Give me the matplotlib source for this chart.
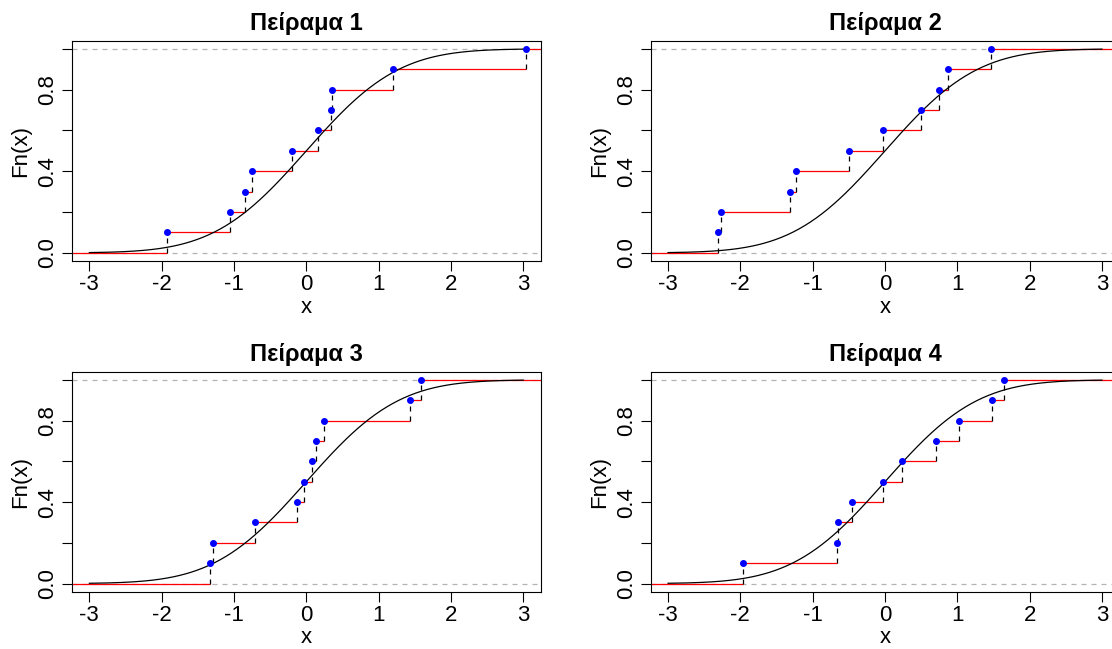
import math
import numpy as np
import matplotlib
matplotlib.use('Agg')
import matplotlib.pyplot as plt

plt.rcParams['font.family'] = ['Liberation Sans', 'DejaVu Sans']
plt.rcParams['axes.unicode_minus'] = False

x1 = [-1.927, -1.051, -0.848, -0.747, -0.194, 0.157, 0.345, 0.36, 1.203, 3.035]
x2 = [-2.309, -2.268, -1.319, -1.236, -0.498, -0.028, 0.493, 0.747, 0.866, 1.470]
x3 = [-1.328, -1.295, -0.710, -0.133, -0.036, 0.079, 0.130, 0.249, 1.430, 1.591]
x4 = [-1.963, -0.660, -0.648, -0.462, -0.023, 0.235, 0.705, 1.023, 1.474, 1.645]
samples = [x1, x2, x3, x4]
titles = ['Πείραμα 1', 'Πείραμα 2', 'Πείραμα 3', 'Πείραμα 4']

xticks = [-3, -2, -1, 0, 1, 2, 3]
yticks = [0.0, 0.2, 0.4, 0.6, 0.8, 1.0]
ylabels = ['0.0', '', '0.4', '', '0.8', '']

W, H = 1112, 649
fig = plt.figure(figsize=(W / 100, H / 100), dpi=100)

# axes boxes in pixels: left, top, width, height
boxes = [(72, 40.7, 468.6, 220.3), (650.7, 40.7, 468.6, 220.3),
         (72, 371.7, 468.6, 220.0), (650.7, 371.7, 468.6, 220.0)]

xc = np.linspace(-3, 3, 300)
yc = np.array([0.5 * (1 + math.erf(v / math.sqrt(2))) for v in xc])

for k in range(4):
    l, t, w, h = boxes[k]
    ax = fig.add_axes([l / W, (H - t - h) / H, w / W, h / H])
    xs = np.sort(np.array(samples[k]))
    n = len(xs)
    Fn = np.arange(1, n + 1) / n
    lo, hi = -3.24, 3.24

    ax.axhline(0, color='#B3B3B3', lw=0.9, ls=(0, (4, 4)), zorder=1)
    ax.axhline(1, color='#B3B3B3', lw=0.9, ls=(0, (4, 4)), zorder=1)

    # red horizontal steps
    left = np.concatenate([[lo - 1], xs])
    right = np.concatenate([xs, [hi + 1]])
    lev = np.concatenate([[0], Fn])
    ax.hlines(lev, left, right, colors='red', lw=0.9, zorder=2)

    # dashed verticals
    ax.vlines(xs, Fn - 1 / n, Fn, colors='black', lw=0.9, linestyles=(0, (4, 4)), zorder=3)

    ax.plot(xc, yc, color='black', lw=0.9, zorder=4)
    ax.plot(xs, Fn, 'o', color='blue', ms=4, zorder=5)

    ax.set_xlim(lo, hi)
    ax.set_ylim(-0.04, 1.04)
    ax.set_xticks(xticks)
    ax.set_xticklabels([str(v) for v in xticks])
    ax.set_yticks(yticks)
    ax.set_yticklabels(ylabels, rotation=90, va='center')
    ax.tick_params(axis='both', direction='out', length=7, width=0.8,
                   labelsize=16, pad=2.5)
    ax.tick_params(axis='y', pad=3)
    for s in ax.spines.values():
        s.set_linewidth(0.8)
    ax.set_title(titles[k], fontsize=17, fontweight='bold', pad=8)
    ax.set_xlabel('x', fontsize=16, labelpad=1)
    ax.set_ylabel('Fn(x)', fontsize=16, labelpad=4)

fig.savefig('out.png', dpi=100)
